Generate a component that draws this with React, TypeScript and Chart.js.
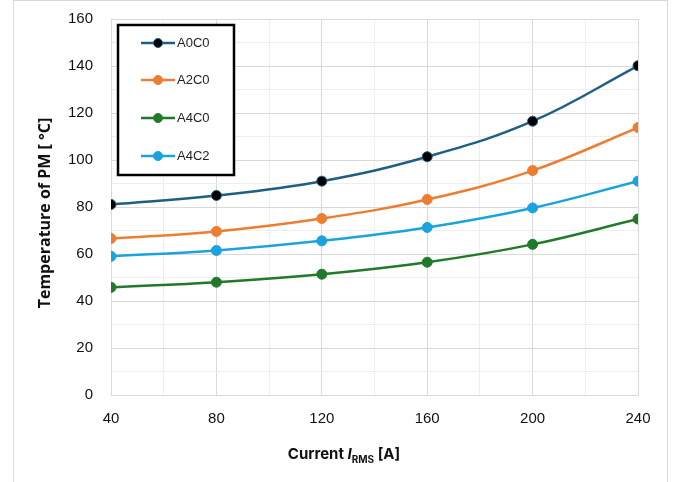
import React, { useEffect, useRef } from "react";
import { Chart, registerables } from "chart.js";

Chart.register(...registerables);

const currents = [40, 80, 120, 160, 200, 240];
const seriesNames = ["A0C0", "A2C0", "A4C0", "A4C2"];
const a0c0 = [81.1, 84.9, 91.0, 101.4, 116.5, 140.1];
const a2c0 = [66.6, 69.6, 75.1, 83.2, 95.5, 113.8];
const a4c0 = [45.8, 48.0, 51.4, 56.5, 64.1, 74.9];
const a4c2 = [59.0, 61.5, 65.6, 71.3, 79.6, 91.0];
const yTicks = [0, 20, 40, 60, 80, 100, 120, 140, 160];
const xTicks = [40, 80, 120, 160, 200, 240];

const lineColors = ["#1f5f85", "#ed7d31", "#217a2a", "#1aa3dc"];
const pointFills = ["#000000", "#ed7d31", "#217a2a", "#1aa3dc"];
const seriesData = [a0c0, a2c0, a4c0, a4c2];

const decorPlugin = {
  id: "decor",
  afterDraw(chart: any) {
    const ctx = chart.ctx as CanvasRenderingContext2D;
    ctx.save();
    // outer frame
    ctx.strokeStyle = "#d9d9d9";
    ctx.lineWidth = 1;
    ctx.strokeRect(13.5, 0.5, 654, 500);

    // legend box
    const lx = 118, ly = 25, lw = 116, lh = 150;
    ctx.fillStyle = "#ffffff";
    ctx.fillRect(lx, ly, lw, lh);
    ctx.strokeStyle = "#000000";
    ctx.lineWidth = 2.5;
    ctx.strokeRect(lx, ly, lw, lh);
    const rows = [43, 80, 118, 156];
    seriesNames.forEach((name, i) => {
      const y = rows[i];
      ctx.strokeStyle = lineColors[i];
      ctx.lineWidth = 2.5;
      ctx.beginPath();
      ctx.moveTo(141, y);
      ctx.lineTo(175, y);
      ctx.stroke();
      ctx.beginPath();
      ctx.arc(158, y, 4.5, 0, Math.PI * 2);
      ctx.fillStyle = pointFills[i];
      ctx.fill();
      ctx.lineWidth = 1;
      ctx.strokeStyle = lineColors[i];
      ctx.stroke();
      ctx.fillStyle = "#222222";
      ctx.font = "13px 'Liberation Sans', Arial, sans-serif";
      ctx.textBaseline = "middle";
      ctx.textAlign = "left";
      ctx.fillText(name, 177, y + 0.5);
    });

    // x title with italic I and subscript
    ctx.fillStyle = "#111111";
    ctx.textBaseline = "alphabetic";
    ctx.textAlign = "left";
    const fMain = "bold 15px Inter, 'Liberation Sans', sans-serif";
    const fItal = "italic bold 15px Inter, 'Liberation Sans', sans-serif";
    const fSub = "bold 10px Inter, 'Liberation Sans', sans-serif";
    const parts: [string, string, number][] = [
      ["Current ", fMain, 0],
      ["I", fItal, 0],
      ["RMS", fSub, 4],
      [" [A]", fMain, 0],
    ];
    let total = 0;
    parts.forEach(([t, f]) => {
      ctx.font = f;
      total += ctx.measureText(t).width;
    });
    let x = 344 - total / 2;
    const base = 459;
    parts.forEach(([t, f, dy]) => {
      ctx.font = f;
      ctx.fillText(t, x, base + dy);
      x += ctx.measureText(t).width;
    });

    // y title
    ctx.save();
    ctx.translate(45, 213);
    ctx.rotate(-Math.PI / 2);
    ctx.textAlign = "center";
    ctx.textBaseline = "middle";
    ctx.font = "bold 16px 'Open Sans', 'Liberation Sans', sans-serif";
    ctx.fillText("Temperature of PM [ °C]", 0, 0);
    ctx.restore();

    ctx.restore();
  },
};

export default function App() {
  const ref = useRef<HTMLCanvasElement | null>(null);
  useEffect(() => {
    if (!ref.current) return;
    const chart = new Chart(ref.current, {
      type: "line",
      data: {
        datasets: seriesNames.map((name, i) => ({
          label: name,
          data: currents.map((c, j) => ({ x: c, y: seriesData[i][j] })),
          borderColor: lineColors[i],
          backgroundColor: pointFills[i],
          pointBackgroundColor: pointFills[i],
          pointBorderColor: lineColors[i],
          pointBorderWidth: 1,
          pointRadius: 5,
          borderWidth: 2.5,
          tension: 0.4,
          cubicInterpolationMode: "default" as const,
          fill: false,
        })),
      },
      options: {
        animation: false,
        responsive: false,
        maintainAspectRatio: false,
        layout: { padding: { top: 19, right: 37, left: 0, bottom: 0 } },
        plugins: { legend: { display: false }, tooltip: { enabled: false } },
        scales: {
          x: {
            type: "linear",
            min: 40,
            max: 240,
            afterFit(scale: any) {
              scale.height = 87;
              scale.paddingLeft = 0;
              scale.paddingRight = 0;
            },
            afterBuildTicks(scale: any) {
              const t: any[] = [];
              for (let v = 40; v <= 240; v += 20) t.push({ value: v });
              scale.ticks = t;
            },
            ticks: {
              padding: 15,
              color: "#111111",
              font: { size: 15, family: "'Liberation Sans', Arial, sans-serif" },
              maxRotation: 0,
              autoSkip: false,
              callback: (v: any) => (xTicks.includes(Number(v)) ? String(v) : ""),
            },
            grid: {
              drawTicks: false,
              color: (c: any) => (c.tick && xTicks.includes(c.tick.value) ? "#d9d9d9" : "#eeeeee"),
              lineWidth: 1,
            },
            border: { display: true, color: "#d9d9d9" },
          },
          y: {
            type: "linear",
            min: 0,
            max: 160,
            afterFit(scale: any) {
              scale.width = 111;
              scale.paddingTop = 0;
              scale.paddingBottom = 0;
            },
            afterBuildTicks(scale: any) {
              const t: any[] = [];
              for (let v = 0; v <= 160; v += 10) t.push({ value: v });
              scale.ticks = t;
            },
            ticks: {
              padding: 18,
              color: "#111111",
              font: { size: 15, family: "'Liberation Sans', Arial, sans-serif" },
              autoSkip: false,
              callback: (v: any) => (yTicks.includes(Number(v)) ? String(v) : ""),
            },
            grid: {
              drawTicks: false,
              color: (c: any) => (c.tick && yTicks.includes(c.tick.value) ? "#d9d9d9" : "#eeeeee"),
              lineWidth: 1,
            },
            border: { display: true, color: "#d9d9d9" },
          },
        },
      },
      plugins: [decorPlugin],
    });
    return () => chart.destroy();
  }, []);
  return (
    <div style={{ position: "fixed", left: 0, top: 0, width: 675, height: 482, background: "#fff" }}>
      <canvas ref={ref} width={675} height={482} style={{ width: 675, height: 482, display: "block" }} />
    </div>
  );
}
